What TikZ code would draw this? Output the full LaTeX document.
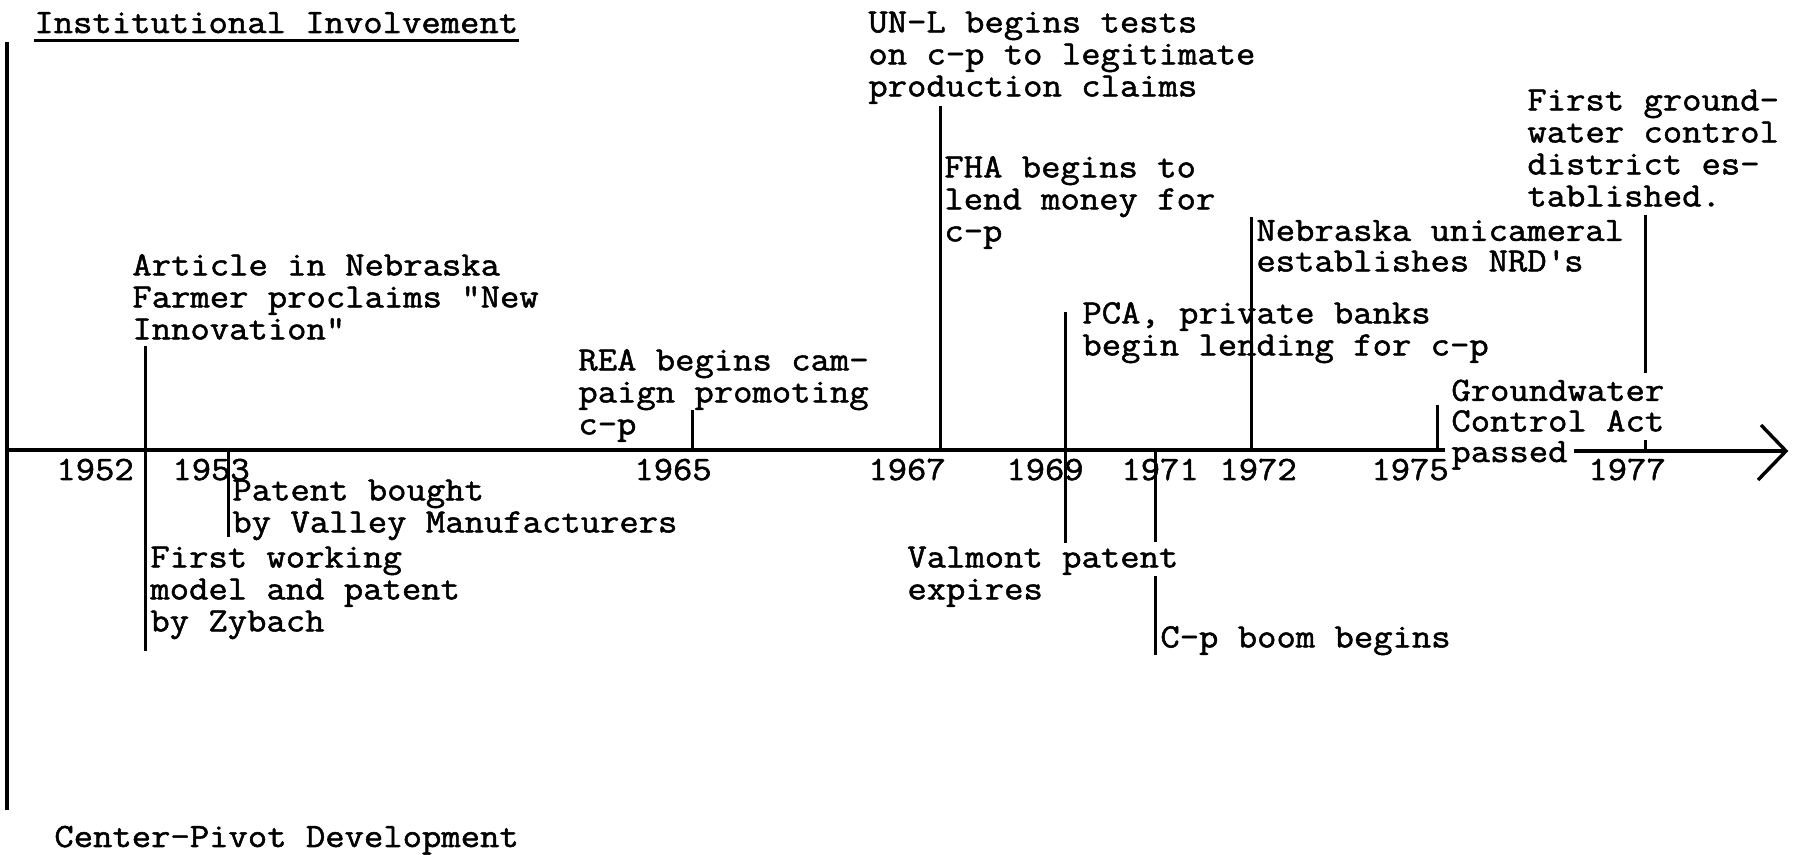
\documentclass[tikz,border=0pt]{standalone}
\usepackage{fontspec}
\newfontfamily\tw{Latin Modern Mono}[FakeBold=1.5, FakeStretch=1.105]
\tikzset{
  lbl/.style={anchor=north west, inner sep=0pt, align=left, font=\tw\fontsize{17}{16}\selectfont},
  tightlbl/.style={anchor=north west, inner sep=0pt, align=left, font=\tw\fontsize{17}{15.3}\selectfont},
  yr/.style={anchor=base west, inner sep=0pt, font=\tw\fontsize{17}{16}\selectfont},
  evline/.style={line width=1.5pt},
  axisline/.style={line width=1.7pt},
}
\begin{document}
\begin{tikzpicture}[x=0.5pt,y=-0.5pt]
\useasboundingbox (0,0) rectangle (1796,855);
% frame
\coordinate (vtop) at (7,42);
\coordinate (vbot) at (7,810);
\coordinate (ax0) at (7,450);
\coordinate (axg1) at (1445,450);
\coordinate (axg2) at (1574,451);
\coordinate (tip) at (1786,451);
\coordinate (ah1) at (1761,425);
\coordinate (ah2) at (1758,480);
\draw[axisline] (vtop) -- (vbot);
\draw[axisline] (ax0) -- (axg1);
\draw[axisline] (axg2) -- (tip);
\draw[axisline, line join=miter] (ah1) -- (tip) -- (ah2);
% titles
\node[yr] (ttl) at (34,33) {Institutional Involvement};
\draw[evline] ([yshift=-4pt]ttl.base west) -- ([yshift=-4pt]ttl.base east);
\node[yr] (cpd) at (54,847) {Center-Pivot Development};
% years
\node[yr] (y52) at (56,480) {1952};
\node[yr] (y53) at (172,480) {1953};
\node[yr] (y65) at (634,480) {1965};
\node[yr] (y67) at (868,480) {1967};
\node[yr] (y69) at (1006,480) {1969};
\node[yr] (y71) at (1121,480) {1971};
\node[yr] (y72) at (1219,480) {1972};
\node[yr] (y75) at (1371,480) {1975};
\node[yr] (y77) at (1588,480) {1977};
% events
\node[lbl] (art) at (132,252.6) {\strut Article in Nebraska\\Farmer proclaims "New\\Innovation"};
\coordinate (a1) at (145,346); \coordinate (a2) at (145,651);
\draw[evline] (a1) -- (a2);
\node[lbl] (pat) at (232,477.6) {\strut Patent bought\\by Valley Manufacturers};
\coordinate (p1) at (228,450); \coordinate (p2) at (228,537);
\draw[evline] (p1) -- (p2);
\node[lbl] (fwm) at (150,544.6) {\strut First working\\model and patent\\by Zybach};
\node[lbl] (rea) at (578,347.6) {\strut REA begins cam-\\paign promoting\\c-p};
\coordinate (r1) at (692,410); \coordinate (r2) at (692,450);
\draw[evline] (r1) -- (r2);
\node[lbl] (unl) at (868,9.6) {\strut UN-L begins tests\\on c-p to legitimate\\production claims};
\coordinate (u1) at (940,106); \coordinate (u2) at (940,450);
\draw[evline] (u1) -- (u2);
\node[lbl] (fha) at (944,154.6) {\strut FHA begins to\\lend money for\\c-p};
\node[lbl] (pca) at (1082,300.6) {\strut PCA, private banks\\begin lending for c-p};
\coordinate (c1) at (1065,312); \coordinate (c2) at (1065,543);
\draw[evline] (c1) -- (c2);
\node[lbl] (val) at (907,544.6) {\strut Valmont patent\\expires};
\coordinate (v1) at (1155,450); \coordinate (v2) at (1155,542);
\coordinate (v3) at (1155,576); \coordinate (v4) at (1155,655);
\draw[evline] (v1) -- (v2);
\draw[evline] (v3) -- (v4);
\node[lbl] (cpb) at (1160,624.6) {\strut C-p boom begins};
\node[tightlbl] (nrd) at (1256,219) {\strut Nebraska unicameral\\establishes NRD\textquotesingle s};
\coordinate (n1) at (1251,217); \coordinate (n2) at (1251,450);
\draw[evline] (n1) -- (n2);
\node[lbl] (fgw) at (1527,87.6) {\strut First ground-\\water control\\district es-\\tablished.};
\coordinate (f1) at (1645,215); \coordinate (f2) at (1645,373);
\coordinate (f3) at (1645,440); \coordinate (f4) at (1645,452);
\draw[evline] (f1) -- (f2);
\draw[evline] (f3) -- (f4);
\node[tightlbl] (gwc) at (1451,379) {\strut Groundwater\\Control Act\\passed};
\coordinate (g1) at (1437,405); \coordinate (g2) at (1437,450);
\draw[evline] (g1) -- (g2);
\end{tikzpicture}
\end{document}
